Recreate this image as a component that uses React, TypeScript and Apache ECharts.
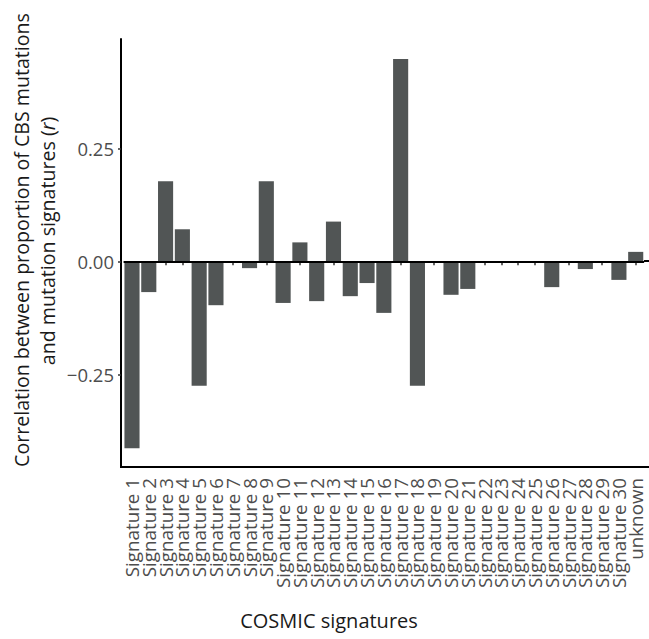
import React, { useEffect, useRef } from "react";
import * as echarts from "echarts";

const categories: string[] = [
  "Signature 1", "Signature 2", "Signature 3", "Signature 4", "Signature 5",
  "Signature 6", "Signature 7", "Signature 8", "Signature 9", "Signature 10",
  "Signature 11", "Signature 12", "Signature 13", "Signature 14", "Signature 15",
  "Signature 16", "Signature 17", "Signature 18", "Signature 19", "Signature 20",
  "Signature 21", "Signature 22", "Signature 23", "Signature 24", "Signature 25",
  "Signature 26", "Signature 27", "Signature 28", "Signature 29", "Signature 30",
  "unknown",
];

const correlations: number[] = [
  -0.4135, -0.068, 0.177, 0.071, -0.275,
  -0.097, 0, -0.015, 0.177, -0.092,
  0.042, -0.088, 0.088, -0.077, -0.048,
  -0.114, 0.448, -0.275, 0, -0.074,
  -0.061, 0, 0, 0, 0,
  -0.057, 0, -0.017, 0, -0.041,
  0.021,
];

const yTicks: number[] = [-0.25, 0, 0.25];
const yMin = -0.455;
const yMax = 0.492;

const xTitle = "COSMIC signatures";
const yTitleLine1 = "Correlation between proportion of CBS mutations";
const yTitleLine2 = "and mutation signatures (";

const FONT = "Open Sans";

function fmt(v: number): string {
  const s = Math.abs(v).toFixed(2);
  return v < 0 ? "\u2212" + s : s;
}

export default function App() {
  const ref = useRef<HTMLDivElement>(null);

  useEffect(() => {
    if (!ref.current) return;
    const chart = echarts.init(ref.current, null, { renderer: "svg" });
    chart.setOption({
      animation: false,
      backgroundColor: "#ffffff",
      grid: { left: 123.6, top: 39, width: 520.5, height: 428 },
      xAxis: {
        type: "category",
        data: categories,
        boundaryGap: true,
        axisLine: { show: false },
        axisTick: {
          show: true,
          alignWithLabel: true,
          length: 4,
          lineStyle: { color: "#333333", width: 1.5 },
        },
        axisLabel: {
          interval: 0,
          rotate: 90,
          margin: 11,
          color: "#4d4d4d",
          fontFamily: FONT,
          fontSize: 18.8,
          lineHeight: 15,
        },
      },
      yAxis: {
        type: "value",
        min: yMin,
        max: yMax,
        offset: 2.6,
        splitLine: { show: false },
        axisLine: { show: true, lineStyle: { color: "#000000", width: 2 } },
        axisTick: {
          show: true,
          length: 3,
          customValues: yTicks,
          lineStyle: { color: "#333333", width: 1.5 },
        },
        axisLabel: {
          customValues: yTicks,
          formatter: (v: number) => fmt(v),
          color: "#4d4d4d",
          fontFamily: FONT,
          fontSize: 18.5,
          margin: 7,
        },
      },
      series: [
        {
          type: "bar",
          data: correlations,
          barCategoryGap: "10%",
          itemStyle: { color: "#515555" },
          markLine: {
            silent: true,
            symbol: "none",
            label: { show: false },
            lineStyle: { color: "#000000", width: 2, type: "solid" },
            data: [{ yAxis: 0 }],
          },
        },
      ],
      graphic: [
        {
          type: "line",
          shape: { x1: 120, y1: 467, x2: 649, y2: 467 },
          style: { stroke: "#000000", lineWidth: 2 },
        },
        {
          type: "line",
          shape: { x1: 644, y1: 261, x2: 649, y2: 261 },
          style: { stroke: "#000000", lineWidth: 2 },
        },
        {
          type: "text",
          x: 329,
          y: 620,
          style: {
            text: xTitle,
            fill: "#1a1a1a",
            font: `20px "${FONT}"`,
            align: "center",
            verticalAlign: "middle",
          },
        },
        {
          type: "text",
          x: 21,
          y: 240,
          rotation: Math.PI / 2,
          style: {
            text: yTitleLine1,
            fill: "#1a1a1a",
            font: `19.6px "${FONT}"`,
            align: "center",
            verticalAlign: "middle",
          },
        },
        {
          type: "text",
          x: 47,
          y: 241,
          rotation: Math.PI / 2,
          style: {
            text: "{n|" + yTitleLine2 + "}{i|r}{n|)}",
            align: "center",
            verticalAlign: "middle",
            rich: {
              n: { fill: "#1a1a1a", font: `19.6px "${FONT}"` },
              i: { fill: "#1a1a1a", font: `italic 19.6px "${FONT}"` },
            },
          },
        },
      ],
    });
    return () => chart.dispose();
  }, []);

  return (
    <div
      ref={ref}
      style={{ position: "fixed", left: 0, top: 0, width: 649, height: 639 }}
    />
  );
}
